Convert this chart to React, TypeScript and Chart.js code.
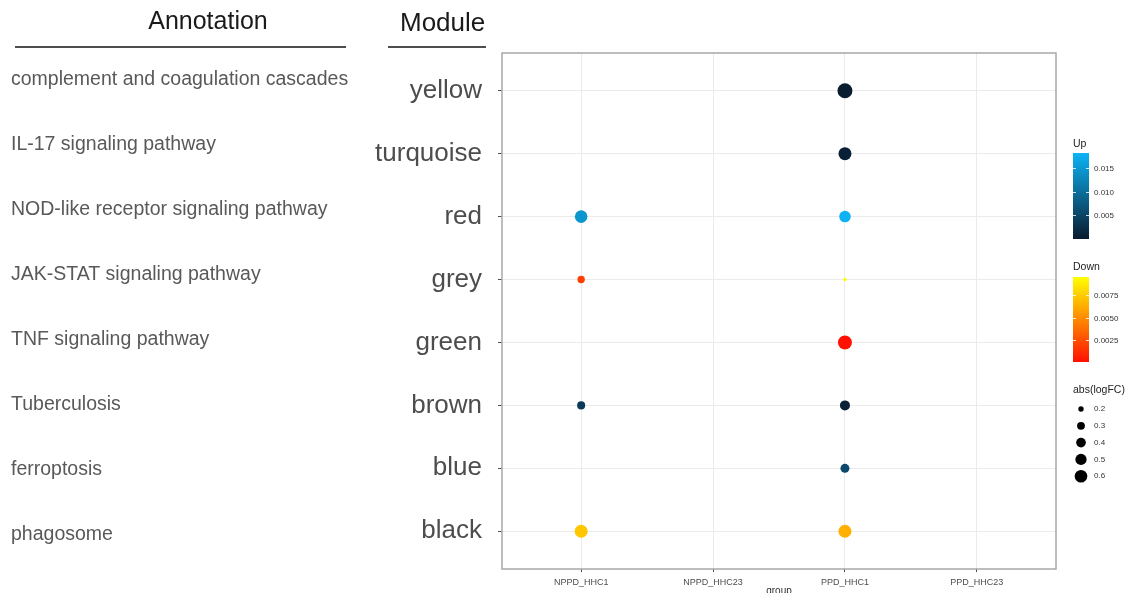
import React, { useEffect, useRef } from 'react';
import { Chart, registerables } from 'chart.js';

Chart.register(...registerables);

const FONT = "'Liberation Sans', Arial, Helvetica, sans-serif";

// ---- data ----
const groups = ['NPPD_HHC1', 'NPPD_HHC23', 'PPD_HHC1', 'PPD_HHC23'];
const modules = ['yellow', 'turquoise', 'red', 'grey', 'green', 'brown', 'blue', 'black'];
const annotations = [
  'complement and coagulation cascades',
  'IL-17 signaling pathway',
  'NOD-like receptor signaling pathway',
  'JAK-STAT signaling pathway',
  'TNF signaling pathway',
  'Tuberculosis',
  'ferroptosis',
  'phagosome',
];

const upGroup = ['NPPD_HHC1', 'NPPD_HHC1', 'PPD_HHC1', 'PPD_HHC1', 'PPD_HHC1', 'PPD_HHC1', 'PPD_HHC1'];
const upModule = ['red', 'brown', 'yellow', 'turquoise', 'red', 'brown', 'blue'];
const upValue = [0.0146, 0.0038, 0.0002, 0.0007, 0.018, 0.0007, 0.0057];
const upLogFC = [0.6, 0.31, 0.8, 0.63, 0.52, 0.42, 0.36];

const downGroup = ['NPPD_HHC1', 'NPPD_HHC1', 'PPD_HHC1', 'PPD_HHC1', 'PPD_HHC1'];
const downModule = ['grey', 'black', 'grey', 'green', 'black'];
const downValue = [0.0019, 0.0073, 0.0094, 0.0001, 0.0064];
const downLogFC = [0.28, 0.63, 0.15, 0.71, 0.63];

const upLimits = [0, 0.0182];
const downLimits = [0.0001, 0.0095];
const upTicks = [0.005, 0.01, 0.015];
const upTickLabels = ['0.005', '0.010', '0.015'];
const downTicks = [0.0025, 0.005, 0.0075];
const downTickLabels = ['0.0025', '0.0050', '0.0075'];
const sizeBreaks = [0.2, 0.3, 0.4, 0.5, 0.6];

// ---- colour / size scales ----
const UP_LOW = [10, 26, 46];
const UP_HIGH = [12, 180, 246];
const DOWN_LOW = [255, 16, 0];
const DOWN_HIGH = [255, 255, 0];

function lerpColor(a: number[], b: number[], t: number) {
  const c = Math.max(0, Math.min(1, t));
  const r = Math.round(a[0] + (b[0] - a[0]) * c);
  const g = Math.round(a[1] + (b[1] - a[1]) * c);
  const bl = Math.round(a[2] + (b[2] - a[2]) * c);
  return `rgb(${r},${g},${bl})`;
}
const upColor = (v: number) => lerpColor(UP_LOW, UP_HIGH, (v - upLimits[0]) / (upLimits[1] - upLimits[0]));
const downColor = (v: number) => lerpColor(DOWN_LOW, DOWN_HIGH, (v - downLimits[0]) / (downLimits[1] - downLimits[0]));
const sizeRadius = (s: number) => Math.sqrt(Math.max(2.2, 7.3 + 81 * (s - 0.2)));

const overlayPlugin = {
  id: 'overlay',
  afterDraw(chart: any) {
    const { ctx, chartArea } = chart;
    ctx.save();
    // panel border
    ctx.strokeStyle = '#a8a8a8';
    ctx.lineWidth = 1.5;
    ctx.strokeRect(chartArea.left, chartArea.top, chartArea.right - chartArea.left, chartArea.bottom - chartArea.top);

    // headers
    ctx.fillStyle = '#1a1a1a';
    ctx.textBaseline = 'middle';
    ctx.textAlign = 'center';
    ctx.font = `25px ${FONT}`;
    ctx.fillText('Annotation', 208, 22);
    ctx.textAlign = 'left';
    ctx.font = `26px ${FONT}`;
    ctx.fillText('Module', 400, 24);
    ctx.strokeStyle = '#4d4d4d';
    ctx.lineWidth = 2;
    ctx.beginPath();
    ctx.moveTo(15, 47);
    ctx.lineTo(346, 47);
    ctx.moveTo(388, 47);
    ctx.lineTo(486, 47);
    ctx.stroke();

    // annotation labels
    ctx.fillStyle = '#595959';
    ctx.font = `19.5px ${FONT}`;
    ctx.textAlign = 'left';
    annotations.forEach((a, i) => {
      ctx.fillText(a, 11, 80 + i * 65);
    });

    // x axis title
    ctx.fillStyle = '#333333';
    ctx.font = `10px ${FONT}`;
    ctx.textAlign = 'center';
    ctx.textBaseline = 'top';
    ctx.fillText('group', (chartArea.left + chartArea.right) / 2, 586);

    // legends
    const lx = chartArea.right + 17;
    const barW = 16;
    const drawBar = (title: string, titleY: number, top: number, bottom: number, lim: number[], lo: number[], hi: number[], ticks: number[], labels: string[]) => {
      ctx.fillStyle = '#222222';
      ctx.font = `10.5px ${FONT}`;
      ctx.textAlign = 'left';
      ctx.textBaseline = 'middle';
      ctx.fillText(title, lx, titleY);
      const grad = ctx.createLinearGradient(0, bottom, 0, top);
      grad.addColorStop(0, lerpColor(lo, hi, 0));
      grad.addColorStop(0.5, lerpColor(lo, hi, 0.5));
      grad.addColorStop(1, lerpColor(lo, hi, 1));
      ctx.fillStyle = grad;
      ctx.fillRect(lx, top, barW, bottom - top);
      ctx.strokeStyle = 'rgba(255,255,255,0.8)';
      ctx.lineWidth = 1;
      ctx.fillStyle = '#333333';
      ctx.font = `8px ${FONT}`;
      ticks.forEach((t, i) => {
        const y = Math.round(bottom - ((t - lim[0]) / (lim[1] - lim[0])) * (bottom - top)) + 0.5;
        ctx.beginPath();
        ctx.moveTo(lx, y);
        ctx.lineTo(lx + 3, y);
        ctx.moveTo(lx + barW - 3, y);
        ctx.lineTo(lx + barW, y);
        ctx.stroke();
        ctx.fillText(labels[i], lx + 21, y);
      });
    };
    drawBar('Up', 144, 153, 239, upLimits, UP_LOW, UP_HIGH, upTicks, upTickLabels);
    drawBar('Down', 267, 277, 362, downLimits, DOWN_LOW, DOWN_HIGH, downTicks, downTickLabels);

    ctx.fillStyle = '#222222';
    ctx.font = `10.5px ${FONT}`;
    ctx.textAlign = 'left';
    ctx.textBaseline = 'middle';
    ctx.fillText('abs(logFC)', lx, 390);
    sizeBreaks.forEach((s, i) => {
      const y = 409 + i * 16.8;
      ctx.fillStyle = '#000000';
      ctx.beginPath();
      ctx.arc(lx + 8, y, sizeRadius(s), 0, Math.PI * 2);
      ctx.fill();
      ctx.fillStyle = '#333333';
      ctx.font = `8px ${FONT}`;
      ctx.fillText(String(s), lx + 21, y);
    });
    ctx.restore();
  },
};

export default function App() {
  const ref = useRef<HTMLCanvasElement | null>(null);

  useEffect(() => {
    if (!ref.current) return;
    Chart.defaults.font.family = FONT;
    const upData = upGroup.map((g, i) => ({
      x: groups.indexOf(g),
      y: modules.indexOf(upModule[i]),
      v: upValue[i],
      s: upLogFC[i],
    }));
    const downData = downGroup.map((g, i) => ({
      x: groups.indexOf(g),
      y: modules.indexOf(downModule[i]),
      v: downValue[i],
      s: downLogFC[i],
    }));

    const chart = new Chart(ref.current, {
      type: 'scatter',
      data: {
        datasets: [
          {
            label: 'Up',
            data: upData,
            pointBackgroundColor: (c: any) => upColor(c.raw ? c.raw.v : 0),
            pointBorderWidth: 0,
            pointRadius: (c: any) => sizeRadius(c.raw ? c.raw.s : 0.2),
            pointHoverRadius: (c: any) => sizeRadius(c.raw ? c.raw.s : 0.2),
          } as any,
          {
            label: 'Down',
            data: downData,
            pointBackgroundColor: (c: any) => downColor(c.raw ? c.raw.v : 0),
            pointBorderWidth: 0,
            pointRadius: (c: any) => sizeRadius(c.raw ? c.raw.s : 0.2),
            pointHoverRadius: (c: any) => sizeRadius(c.raw ? c.raw.s : 0.2),
          } as any,
        ],
      },
      options: {
        animation: false,
        responsive: true,
        maintainAspectRatio: false,
        events: [],
        layout: { padding: { left: 0, top: 53, right: 71, bottom: 0 } },
        plugins: { legend: { display: false }, tooltip: { enabled: false } },
        scales: {
          x: {
            type: 'linear',
            min: -0.6,
            max: groups.length - 1 + 0.6,
            afterBuildTicks: (axis: any) => {
              axis.ticks = groups.map((_, i) => ({ value: i }));
            },
            afterFit: (axis: any) => {
              axis.height = 24;
            },
            ticks: {
              callback: (v: any) => groups[v as number] ?? '',
              font: { size: 9, family: FONT },
              color: '#4d4d4d',
              padding: 5,
              maxRotation: 0,
              autoSkip: false,
            },
            grid: { color: '#ebebeb', lineWidth: 1, tickColor: '#4d4d4d', tickLength: 3 },
            border: { display: false },
          },
          y: {
            type: 'linear',
            reverse: true,
            min: -0.6,
            max: modules.length - 1 + 0.6,
            afterBuildTicks: (axis: any) => {
              axis.ticks = modules.map((_, i) => ({ value: i }));
            },
            afterFit: (axis: any) => {
              axis.width = 502;
              axis.paddingTop = 0;
              axis.paddingBottom = 0;
            },
            ticks: {
              callback: (v: any) => modules[v as number] ?? '',
              font: { size: 26, family: FONT },
              color: '#4d4d4d',
              padding: 16,
              autoSkip: false,
            },
            grid: { color: '#ebebeb', lineWidth: 1, tickColor: '#4d4d4d', tickLength: 4 },
            border: { display: false },
          },
        },
      } as any,
      plugins: [overlayPlugin],
    });
    return () => chart.destroy();
  }, []);

  return (
    <div style={{ position: 'fixed', left: 0, top: 0, width: 1127, height: 593, background: '#ffffff' }}>
      <canvas ref={ref} />
    </div>
  );
}
